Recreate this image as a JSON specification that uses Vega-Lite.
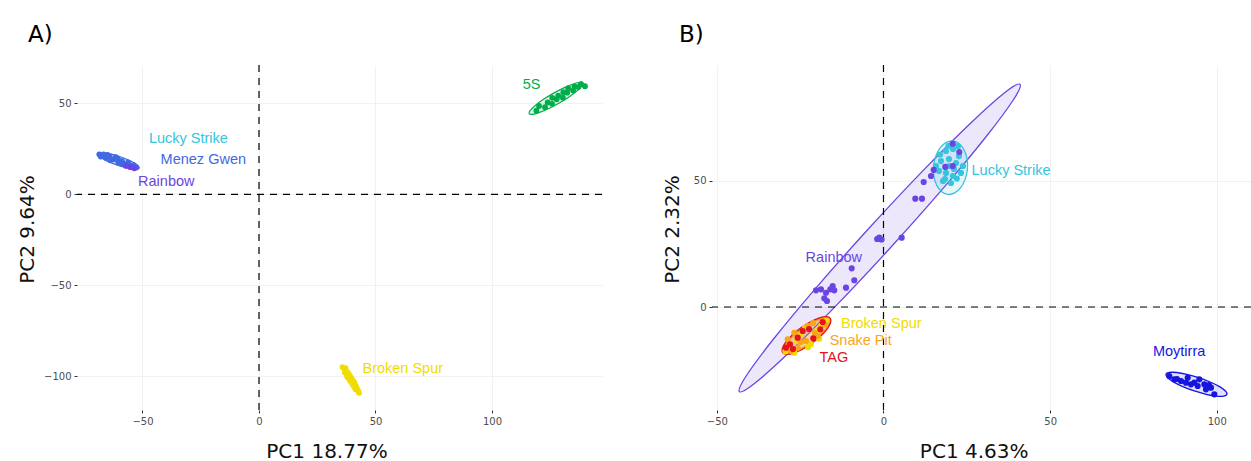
{
  "$schema": "https://vega.github.io/schema/vega-lite/v6.json",
  "padding": {"left": 17, "top": 24, "right": 0, "bottom": 0},
  "background": "white",
  "spacing": 59,
  "config": {
    "view": {"stroke": null},
    "axis": {
      "domain": false, "grid": true, "gridColor": "#F1F1F1", "gridWidth": 1,
      "ticks": true, "tickColor": "#333333", "tickSize": 3, "tickWidth": 1,
      "labelFont": "DejaVu Sans", "labelFontSize": 10, "labelColor": "#4D4D4D", "labelPadding": 3,
      "titleFont": "DejaVu Sans", "titleFontSize": 20, "titleFontWeight": "normal", "titleColor": "#111111"
    }
  },
  "datasets": {
    "zero": [{"v": 0}],
    "a_pts": [
      {"site": "5S", "x": 119.05, "y": 45.84}, {"site": "5S", "x": 120.19, "y": 48.46}, {"site": "5S", "x": 122.76, "y": 47.83},
      {"site": "5S", "x": 123.9, "y": 50.44}, {"site": "5S", "x": 125.78, "y": 49.67}, {"site": "5S", "x": 125.86, "y": 52.94},
      {"site": "5S", "x": 127.74, "y": 52.16}, {"site": "5S", "x": 128.42, "y": 54.08}, {"site": "5S", "x": 130.42, "y": 53.03},
      {"site": "5S", "x": 130.62, "y": 56.04}, {"site": "5S", "x": 132.26, "y": 55.8}, {"site": "5S", "x": 132.7, "y": 58.26},
      {"site": "5S", "x": 134.81, "y": 56.94}, {"site": "5S", "x": 135.37, "y": 59.13}, {"site": "5S", "x": 137.01, "y": 58.9},
      {"site": "5S", "x": 138.16, "y": 60.45}, {"site": "5S", "x": 139.9, "y": 59.3},
      {"site": "Lucky Strike", "x": -62.0, "y": 19.5}, {"site": "Lucky Strike", "x": -59.5, "y": 18.8},
      {"site": "Menez Gwen", "x": -68.54, "y": 21.96}, {"site": "Menez Gwen", "x": -67.92, "y": 20.75}, {"site": "Menez Gwen", "x": -66.7, "y": 21.85},
      {"site": "Menez Gwen", "x": -65.78, "y": 20.04}, {"site": "Menez Gwen", "x": -64.14, "y": 20.96}, {"site": "Menez Gwen", "x": -63.8, "y": 18.7},
      {"site": "Menez Gwen", "x": -62.26, "y": 19.2}, {"site": "Menez Gwen", "x": -60.73, "y": 19.7}, {"site": "Menez Gwen", "x": -60.39, "y": 17.44},
      {"site": "Menez Gwen", "x": -58.8, "y": 18.15}, {"site": "Menez Gwen", "x": -57.83, "y": 16.55}, {"site": "Menez Gwen", "x": -56.18, "y": 17.46},
      {"site": "Menez Gwen", "x": -55.26, "y": 15.65}, {"site": "Menez Gwen", "x": -53.78, "y": 15.94}, {"site": "Menez Gwen", "x": -52.7, "y": 14.76},
      {"site": "Menez Gwen", "x": -65.0, "y": 21.6}, {"site": "Menez Gwen", "x": -61.5, "y": 20.4}, {"site": "Menez Gwen", "x": -59.2, "y": 16.9},
      {"site": "Rainbow", "x": -55.2, "y": 14.9}, {"site": "Rainbow", "x": -53.5, "y": 14.3}, {"site": "Rainbow", "x": -57.0, "y": 15.6},
      {"site": "Broken Spur", "x": 35.82, "y": -94.82}, {"site": "Broken Spur", "x": 37.14, "y": -95.38}, {"site": "Broken Spur", "x": 36.86, "y": -97.74},
      {"site": "Broken Spur", "x": 38.31, "y": -98.2}, {"site": "Broken Spur", "x": 37.85, "y": -100.17}, {"site": "Broken Spur", "x": 39.3, "y": -100.63},
      {"site": "Broken Spur", "x": 39.22, "y": -102.3}, {"site": "Broken Spur", "x": 40.67, "y": -102.77}, {"site": "Broken Spur", "x": 40.45, "y": -104.53},
      {"site": "Broken Spur", "x": 41.53, "y": -105.3}, {"site": "Broken Spur", "x": 41.45, "y": -106.96}, {"site": "Broken Spur", "x": 42.51, "y": -107.73},
      {"site": "Broken Spur", "x": 42.94, "y": -108.99}
    ],
    "a_ell": [
      {"site": "5S", "i": 0, "x": 139.09, "y": 61.12}, {"site": "5S", "i": 1, "x": 138.67, "y": 59.45}, {"site": "5S", "i": 2, "x": 136.54, "y": 56.75},
      {"site": "5S", "i": 3, "x": 133.05, "y": 53.43}, {"site": "5S", "i": 4, "x": 128.7, "y": 50.01}, {"site": "5S", "i": 5, "x": 124.17, "y": 46.99},
      {"site": "5S", "i": 6, "x": 120.16, "y": 44.85}, {"site": "5S", "i": 7, "x": 117.25, "y": 43.89}, {"site": "5S", "i": 8, "x": 115.91, "y": 44.28},
      {"site": "5S", "i": 9, "x": 116.33, "y": 45.95}, {"site": "5S", "i": 10, "x": 118.46, "y": 48.65}, {"site": "5S", "i": 11, "x": 121.95, "y": 51.97},
      {"site": "5S", "i": 12, "x": 126.3, "y": 55.39}, {"site": "5S", "i": 13, "x": 130.83, "y": 58.41}, {"site": "5S", "i": 14, "x": 134.84, "y": 60.55},
      {"site": "5S", "i": 15, "x": 137.75, "y": 61.51},
      {"site": "Menez Gwen", "i": 0, "x": -51.37, "y": 14.38}, {"site": "Menez Gwen", "i": 1, "x": -52.27, "y": 13.8}, {"site": "Menez Gwen", "i": 2, "x": -54.37, "y": 13.89},
      {"site": "Menez Gwen", "i": 3, "x": -57.35, "y": 14.66}, {"site": "Menez Gwen", "i": 4, "x": -60.77, "y": 15.98}, {"site": "Menez Gwen", "i": 5, "x": -64.09, "y": 17.64},
      {"site": "Menez Gwen", "i": 6, "x": -66.81, "y": 19.41}, {"site": "Menez Gwen", "i": 7, "x": -68.53, "y": 21.0}, {"site": "Menez Gwen", "i": 8, "x": -68.97, "y": 22.18},
      {"site": "Menez Gwen", "i": 9, "x": -68.07, "y": 22.76}, {"site": "Menez Gwen", "i": 10, "x": -65.97, "y": 22.67}, {"site": "Menez Gwen", "i": 11, "x": -62.99, "y": 21.9},
      {"site": "Menez Gwen", "i": 12, "x": -59.57, "y": 20.58}, {"site": "Menez Gwen", "i": 13, "x": -56.25, "y": 18.92}, {"site": "Menez Gwen", "i": 14, "x": -53.53, "y": 17.15},
      {"site": "Menez Gwen", "i": 15, "x": -51.81, "y": 15.56},
      {"site": "Broken Spur", "i": 0, "x": 43.31, "y": -109.77}, {"site": "Broken Spur", "i": 1, "x": 42.54, "y": -109.56}, {"site": "Broken Spur", "i": 2, "x": 41.32, "y": -108.2},
      {"site": "Broken Spur", "i": 3, "x": 39.84, "y": -105.9}, {"site": "Broken Spur", "i": 4, "x": 38.32, "y": -103.0}, {"site": "Broken Spur", "i": 5, "x": 37.0, "y": -99.94},
      {"site": "Broken Spur", "i": 6, "x": 36.08, "y": -97.22}, {"site": "Broken Spur", "i": 7, "x": 35.68, "y": -95.2}, {"site": "Broken Spur", "i": 8, "x": 35.89, "y": -94.23},
      {"site": "Broken Spur", "i": 9, "x": 36.66, "y": -94.44}, {"site": "Broken Spur", "i": 10, "x": 37.88, "y": -95.8}, {"site": "Broken Spur", "i": 11, "x": 39.36, "y": -98.1},
      {"site": "Broken Spur", "i": 12, "x": 40.88, "y": -101.0}, {"site": "Broken Spur", "i": 13, "x": 42.2, "y": -104.06}, {"site": "Broken Spur", "i": 14, "x": 43.12, "y": -106.78},
      {"site": "Broken Spur", "i": 15, "x": 43.52, "y": -108.8}
    ],
    "a_lab": [
      {"site": "Lucky Strike", "label": "Lucky Strike", "x": -30.3, "y": 30.5},
      {"site": "Menez Gwen", "label": "Menez Gwen", "x": -23.9, "y": 19.0},
      {"site": "Rainbow", "label": "Rainbow", "x": -39.8, "y": 6.75},
      {"site": "5S", "label": "5S", "x": 117.0, "y": 59.9},
      {"site": "Broken Spur", "label": "Broken Spur", "x": 61.7, "y": -95.9}
    ],
    "b_pts": [
      {"site": "Lucky Strike", "x": 18.75, "y": 61.9}, {"site": "Lucky Strike", "x": 20.85, "y": 62.7}, {"site": "Lucky Strike", "x": 22.65, "y": 59.9},
      {"site": "Lucky Strike", "x": 17.25, "y": 57.9}, {"site": "Lucky Strike", "x": 19.65, "y": 58.7}, {"site": "Lucky Strike", "x": 21.75, "y": 57.1},
      {"site": "Lucky Strike", "x": 23.85, "y": 55.95}, {"site": "Lucky Strike", "x": 16.65, "y": 54.0}, {"site": "Lucky Strike", "x": 18.75, "y": 53.2},
      {"site": "Lucky Strike", "x": 20.85, "y": 52.0}, {"site": "Lucky Strike", "x": 23.25, "y": 53.2}, {"site": "Lucky Strike", "x": 17.85, "y": 50.0},
      {"site": "Lucky Strike", "x": 20.25, "y": 49.2}, {"site": "Lucky Strike", "x": 15.75, "y": 55.95}, {"site": "Lucky Strike", "x": 22.35, "y": 63.9},
      {"site": "Lucky Strike", "x": 19.65, "y": 55.95}, {"site": "Lucky Strike", "x": 21.15, "y": 54.8}, {"site": "Lucky Strike", "x": 18.45, "y": 50.8},
      {"site": "Lucky Strike", "x": 17.0, "y": 60.5}, {"site": "Lucky Strike", "x": 19.5, "y": 64.0}, {"site": "Lucky Strike", "x": 22.0, "y": 51.0},
      {"site": "Rainbow", "x": 20.76, "y": 64.8}, {"site": "Rainbow", "x": 22.74, "y": 61.5}, {"site": "Rainbow", "x": 18.54, "y": 55.6},
      {"site": "Rainbow", "x": 20.76, "y": 55.95}, {"site": "Rainbow", "x": 15.06, "y": 54.4}, {"site": "Rainbow", "x": 14.25, "y": 52.0},
      {"site": "Rainbow", "x": 12.06, "y": 49.6}, {"site": "Rainbow", "x": 9.54, "y": 43.0}, {"site": "Rainbow", "x": 11.55, "y": 43.0},
      {"site": "Rainbow", "x": -1.26, "y": 27.5}, {"site": "Rainbow", "x": -1.9, "y": 27.0}, {"site": "Rainbow", "x": -0.6, "y": 26.8},
      {"site": "Rainbow", "x": 5.46, "y": 27.5}, {"site": "Rainbow", "x": -9.54, "y": 15.36}, {"site": "Rainbow", "x": -8.76, "y": 10.6},
      {"site": "Rainbow", "x": -11.25, "y": 7.66}, {"site": "Rainbow", "x": -15.24, "y": 8.33}, {"site": "Rainbow", "x": -15.96, "y": 7.02},
      {"site": "Rainbow", "x": -17.25, "y": 5.67}, {"site": "Rainbow", "x": -17.76, "y": 3.45}, {"site": "Rainbow", "x": -16.95, "y": 2.38},
      {"site": "Rainbow", "x": -18.75, "y": 7.02}, {"site": "Rainbow", "x": -20.25, "y": 6.63}, {"site": "Rainbow", "x": -14.76, "y": 6.63},
      {"site": "Broken Spur", "x": -17.25, "y": -5.56}, {"site": "Broken Spur", "x": -26.76, "y": -18.13}, {"site": "Broken Spur", "x": -20.25, "y": -9.52},
      {"site": "Broken Spur", "x": -24.75, "y": -10.7}, {"site": "Broken Spur", "x": -28.35, "y": -15.5}, {"site": "Broken Spur", "x": -21.75, "y": -14.7},
      {"site": "Broken Spur", "x": -18.75, "y": -7.54}, {"site": "Broken Spur", "x": -23.5, "y": -8.2}, {"site": "Broken Spur", "x": -26.0, "y": -13.4},
      {"site": "Broken Spur", "x": -19.3, "y": -12.6}, {"site": "Broken Spur", "x": -29.4, "y": -17.6}, {"site": "Broken Spur", "x": -22.6, "y": -15.9},
      {"site": "Snake Pit", "x": -22.74, "y": -7.54}, {"site": "Snake Pit", "x": -26.76, "y": -10.2}, {"site": "Snake Pit", "x": -19.74, "y": -11.5},
      {"site": "Snake Pit", "x": -28.74, "y": -12.8}, {"site": "Snake Pit", "x": -23.25, "y": -13.5}, {"site": "Snake Pit", "x": -25.74, "y": -16.15},
      {"site": "Snake Pit", "x": -21.15, "y": -6.35}, {"site": "Snake Pit", "x": -24.75, "y": -13.9}, {"site": "Snake Pit", "x": -17.6, "y": -7.0},
      {"site": "Snake Pit", "x": -27.8, "y": -17.4}, {"site": "Snake Pit", "x": -20.6, "y": -10.3},
      {"site": "TAG", "x": -24.24, "y": -9.52}, {"site": "TAG", "x": -18.96, "y": -8.85}, {"site": "TAG", "x": -21.06, "y": -12.42},
      {"site": "TAG", "x": -28.05, "y": -14.8}, {"site": "TAG", "x": -25.74, "y": -12.18}, {"site": "TAG", "x": -18.24, "y": -5.95},
      {"site": "TAG", "x": -29.25, "y": -16.15}, {"site": "TAG", "x": -22.35, "y": -8.73}, {"site": "TAG", "x": -27.15, "y": -16.67},
      {"site": "Moytirra", "x": 85.75, "y": -27.38}, {"site": "Moytirra", "x": 87.25, "y": -28.69}, {"site": "Moytirra", "x": 89.26, "y": -29.37},
      {"site": "Moytirra", "x": 91.27, "y": -28.06}, {"site": "Moytirra", "x": 93.25, "y": -30.04}, {"site": "Moytirra", "x": 94.75, "y": -28.69},
      {"site": "Moytirra", "x": 96.25, "y": -30.67}, {"site": "Moytirra", "x": 94.27, "y": -31.35}, {"site": "Moytirra", "x": 98.25, "y": -32.02},
      {"site": "Moytirra", "x": 99.25, "y": -34.64}, {"site": "Moytirra", "x": 96.75, "y": -32.66}, {"site": "Moytirra", "x": 92.25, "y": -30.67},
      {"site": "Moytirra", "x": 90.75, "y": -30.04}, {"site": "Moytirra", "x": 88.05, "y": -28.57}, {"site": "Moytirra", "x": 97.65, "y": -30.95}
    ],
    "b_ell": [
      {"site": "Rainbow", "i": 0, "x": 40.95, "y": 88.37}, {"site": "Rainbow", "i": 1, "x": 38.98, "y": 82.24}, {"site": "Rainbow", "i": 2, "x": 30.89, "y": 67.76},
      {"site": "Rainbow", "i": 3, "x": 17.95, "y": 47.15}, {"site": "Rainbow", "i": 4, "x": 2.07, "y": 23.5}, {"site": "Rainbow", "i": 5, "x": -14.29, "y": 0.43},
      {"site": "Rainbow", "i": 6, "x": -28.63, "y": -18.48}, {"site": "Rainbow", "i": 7, "x": -38.8, "y": -30.46}, {"site": "Rainbow", "i": 8, "x": -43.23, "y": -33.61},
      {"site": "Rainbow", "i": 9, "x": -41.26, "y": -27.48}, {"site": "Rainbow", "i": 10, "x": -33.17, "y": -13.0}, {"site": "Rainbow", "i": 11, "x": -20.23, "y": 7.61},
      {"site": "Rainbow", "i": 12, "x": -4.35, "y": 31.26}, {"site": "Rainbow", "i": 13, "x": 12.01, "y": 54.33}, {"site": "Rainbow", "i": 14, "x": 26.35, "y": 73.24},
      {"site": "Rainbow", "i": 15, "x": 36.52, "y": 85.22},
      {"site": "Lucky Strike", "i": 0, "x": 20.85, "y": 65.86}, {"site": "Lucky Strike", "i": 1, "x": 22.73, "y": 64.82}, {"site": "Lucky Strike", "i": 2, "x": 24.21, "y": 62.31},
      {"site": "Lucky Strike", "i": 3, "x": 25.07, "y": 58.75}, {"site": "Lucky Strike", "i": 4, "x": 25.17, "y": 54.65}, {"site": "Lucky Strike", "i": 5, "x": 24.49, "y": 50.65},
      {"site": "Lucky Strike", "i": 6, "x": 23.15, "y": 47.35}, {"site": "Lucky Strike", "i": 7, "x": 21.35, "y": 45.26}, {"site": "Lucky Strike", "i": 8, "x": 19.35, "y": 44.7},
      {"site": "Lucky Strike", "i": 9, "x": 17.47, "y": 45.74}, {"site": "Lucky Strike", "i": 10, "x": 15.99, "y": 48.25}, {"site": "Lucky Strike", "i": 11, "x": 15.13, "y": 51.81},
      {"site": "Lucky Strike", "i": 12, "x": 15.03, "y": 55.91}, {"site": "Lucky Strike", "i": 13, "x": 15.71, "y": 59.91}, {"site": "Lucky Strike", "i": 14, "x": 17.05, "y": 63.21},
      {"site": "Lucky Strike", "i": 15, "x": 18.85, "y": 65.3},
      {"site": "Broken Spur", "i": 0, "x": -16.2, "y": -4.6}, {"site": "Broken Spur", "i": 1, "x": -16.16, "y": -6.09}, {"site": "Broken Spur", "i": 2, "x": -17.14, "y": -8.32},
      {"site": "Broken Spur", "i": 3, "x": -18.98, "y": -10.95}, {"site": "Broken Spur", "i": 4, "x": -21.4, "y": -13.6}, {"site": "Broken Spur", "i": 5, "x": -24.04, "y": -15.85},
      {"site": "Broken Spur", "i": 6, "x": -26.48, "y": -17.36}, {"site": "Broken Spur", "i": 7, "x": -28.36, "y": -17.91}, {"site": "Broken Spur", "i": 8, "x": -29.4, "y": -17.4},
      {"site": "Broken Spur", "i": 9, "x": -29.44, "y": -15.91}, {"site": "Broken Spur", "i": 10, "x": -28.46, "y": -13.68}, {"site": "Broken Spur", "i": 11, "x": -26.62, "y": -11.05},
      {"site": "Broken Spur", "i": 12, "x": -24.2, "y": -8.4}, {"site": "Broken Spur", "i": 13, "x": -21.56, "y": -6.15}, {"site": "Broken Spur", "i": 14, "x": -19.12, "y": -4.64},
      {"site": "Broken Spur", "i": 15, "x": -17.24, "y": -4.09},
      {"site": "Snake Pit", "i": 0, "x": -16.5, "y": -5.1}, {"site": "Snake Pit", "i": 1, "x": -16.45, "y": -6.66}, {"site": "Snake Pit", "i": 2, "x": -17.43, "y": -8.98},
      {"site": "Snake Pit", "i": 3, "x": -19.31, "y": -11.7}, {"site": "Snake Pit", "i": 4, "x": -21.8, "y": -14.4}, {"site": "Snake Pit", "i": 5, "x": -24.51, "y": -16.68},
      {"site": "Snake Pit", "i": 6, "x": -27.05, "y": -18.18}, {"site": "Snake Pit", "i": 7, "x": -29.01, "y": -18.68}, {"site": "Snake Pit", "i": 8, "x": -30.1, "y": -18.1},
      {"site": "Snake Pit", "i": 9, "x": -30.15, "y": -16.54}, {"site": "Snake Pit", "i": 10, "x": -29.17, "y": -14.22}, {"site": "Snake Pit", "i": 11, "x": -27.29, "y": -11.5},
      {"site": "Snake Pit", "i": 12, "x": -24.8, "y": -8.8}, {"site": "Snake Pit", "i": 13, "x": -22.09, "y": -6.52}, {"site": "Snake Pit", "i": 14, "x": -19.55, "y": -5.02},
      {"site": "Snake Pit", "i": 15, "x": -17.59, "y": -4.52},
      {"site": "TAG", "i": 0, "x": -15.96, "y": -4.48}, {"site": "TAG", "i": 1, "x": -15.86, "y": -6.17}, {"site": "TAG", "i": 2, "x": -16.87, "y": -8.64},
      {"site": "TAG", "i": 3, "x": -18.83, "y": -11.52}, {"site": "TAG", "i": 4, "x": -21.43, "y": -14.37}, {"site": "TAG", "i": 5, "x": -24.29, "y": -16.76},
      {"site": "TAG", "i": 6, "x": -26.97, "y": -18.3}, {"site": "TAG", "i": 7, "x": -29.06, "y": -18.79}, {"site": "TAG", "i": 8, "x": -30.24, "y": -18.14},
      {"site": "TAG", "i": 9, "x": -30.34, "y": -16.45}, {"site": "TAG", "i": 10, "x": -29.33, "y": -13.98}, {"site": "TAG", "i": 11, "x": -27.37, "y": -11.1},
      {"site": "TAG", "i": 12, "x": -24.77, "y": -8.25}, {"site": "TAG", "i": 13, "x": -21.91, "y": -5.86}, {"site": "TAG", "i": 14, "x": -19.23, "y": -4.32},
      {"site": "TAG", "i": 15, "x": -17.14, "y": -3.83},
      {"site": "Moytirra", "i": 0, "x": 103.05, "y": -34.64}, {"site": "Moytirra", "i": 1, "x": 102.1, "y": -35.35}, {"site": "Moytirra", "i": 2, "x": 99.91, "y": -35.35},
      {"site": "Moytirra", "i": 3, "x": 96.8, "y": -34.63}, {"site": "Moytirra", "i": 4, "x": 93.25, "y": -33.31}, {"site": "Moytirra", "i": 5, "x": 89.8, "y": -31.59},
      {"site": "Moytirra", "i": 6, "x": 86.97, "y": -29.73}, {"site": "Moytirra", "i": 7, "x": 85.2, "y": -28.01}, {"site": "Moytirra", "i": 8, "x": 84.75, "y": -26.7},
      {"site": "Moytirra", "i": 9, "x": 85.7, "y": -25.99}, {"site": "Moytirra", "i": 10, "x": 87.89, "y": -25.99}, {"site": "Moytirra", "i": 11, "x": 91.0, "y": -26.71},
      {"site": "Moytirra", "i": 12, "x": 94.55, "y": -28.03}, {"site": "Moytirra", "i": 13, "x": 98.0, "y": -29.75}, {"site": "Moytirra", "i": 14, "x": 100.83, "y": -31.61},
      {"site": "Moytirra", "i": 15, "x": 102.6, "y": -33.33}
    ],
    "b_lab": [
      {"site": "Lucky Strike", "label": "Lucky Strike", "x": 38.25, "y": 54.1},
      {"site": "Rainbow", "label": "Rainbow", "x": -14.9, "y": 19.4},
      {"site": "Broken Spur", "label": "Broken Spur", "x": -0.66, "y": -6.7},
      {"site": "Snake Pit", "label": "Snake Pit", "x": -6.84, "y": -13.65},
      {"site": "TAG", "label": "TAG", "x": -14.9, "y": -20.2},
      {"site": "Moytirra", "label": "Moytirra", "x": 88.7, "y": -18.0}
    ]
  },
  "hconcat": [
    {
      "width": 525,
      "height": 345,
      "title": {"text": "A)", "anchor": "start", "frame": "group", "dx": -49, "offset": 17, "fontSize": 23, "font": "DejaVu Sans", "fontWeight": "normal", "color": "#000000"},
      "layer": [
        {
          "data": {"name": "a_ell"},
          "mark": {"type": "line", "interpolate": "cardinal-closed", "strokeWidth": 1.2, "fillOpacity": 0.12},
          "encoding": {
            "x": {"field": "x", "type": "quantitative", "scale": {"domain": [-78.11, 147.21], "nice": false, "zero": false},
                  "axis": {"values": [-50, 0, 50, 100], "title": "PC1 18.77%", "titleX": 249.5, "titleY": 31}},
            "y": {"field": "y", "type": "quantitative", "scale": {"domain": [-118.39, 70.97], "nice": false, "zero": false},
                  "axis": {"values": [-100, -50, 0, 50], "title": "PC2 9.64%", "titleX": -40, "titleY": 164}},
            "color": {"field": "site", "type": "nominal", "legend": null,
                      "scale": {"domain": ["5S", "Broken Spur", "Lucky Strike", "Menez Gwen", "Moytirra", "Rainbow", "Snake Pit", "TAG"],
                                "range": ["#00AD4A", "#F0DC00", "#35C5DD", "#4169E1", "#1515E0", "#6B45E3", "#F9A51A", "#E3121B"]}},
            "fill": {"field": "site", "type": "nominal", "legend": null,
                     "scale": {"domain": ["5S", "Broken Spur", "Lucky Strike", "Menez Gwen", "Moytirra", "Rainbow", "Snake Pit", "TAG"],
                               "range": ["#00AD4A", "#F0DC00", "#35C5DD", "#4169E1", "#1515E0", "#6B45E3", "#F9A51A", "#E3121B"]}},
            "order": {"field": "i", "type": "quantitative"}
          }
        },
        {"data": {"name": "zero"}, "mark": {"type": "rule", "strokeDash": [7, 6], "color": "#000000", "strokeWidth": 1.2}, "encoding": {"x": {"field": "v", "type": "quantitative"}}},
        {"data": {"name": "zero"}, "mark": {"type": "rule", "strokeDash": [7, 6], "color": "#000000", "strokeWidth": 1.2}, "encoding": {"y": {"field": "v", "type": "quantitative"}}},
        {
          "data": {"name": "a_pts"},
          "mark": {"type": "circle", "size": 34, "opacity": 1},
          "encoding": {
            "x": {"field": "x", "type": "quantitative"},
            "y": {"field": "y", "type": "quantitative"},
            "color": {"field": "site", "type": "nominal", "legend": null}
          }
        },
        {
          "data": {"name": "a_lab"},
          "mark": {"type": "text", "font": "Liberation Sans", "fontSize": 14.5, "align": "center", "baseline": "middle"},
          "encoding": {
            "x": {"field": "x", "type": "quantitative"},
            "y": {"field": "y", "type": "quantitative"},
            "text": {"field": "label"},
            "color": {"field": "site", "type": "nominal", "legend": null}
          }
        }
      ]
    },
    {
      "width": 539,
      "height": 345,
      "title": {"text": "B)", "anchor": "start", "frame": "group", "dx": -33, "offset": 17, "fontSize": 23, "font": "DejaVu Sans", "fontWeight": "normal", "color": "#000000"},
      "layer": [
        {
          "data": {"name": "b_ell"},
          "mark": {"type": "line", "interpolate": "cardinal-closed", "strokeWidth": 1.3, "fillOpacity": 0.13},
          "encoding": {
            "x": {"field": "x", "type": "quantitative", "scale": {"domain": [-51.45, 110.26], "nice": false, "zero": false},
                  "axis": {"values": [-50, 0, 50, 100], "title": "PC1 4.63%", "titleX": 261.7, "titleY": 31}},
            "y": {"field": "y", "type": "quantitative", "scale": {"domain": [-40.87, 96.03], "nice": false, "zero": false},
                  "axis": {"values": [0, 50], "title": "PC2 2.32%", "titleX": -30, "titleY": 164}},
            "color": {"field": "site", "type": "nominal", "legend": null,
                      "scale": {"domain": ["5S", "Broken Spur", "Lucky Strike", "Menez Gwen", "Moytirra", "Rainbow", "Snake Pit", "TAG"],
                                "range": ["#00AD4A", "#F0DC00", "#35C5DD", "#4169E1", "#1515E0", "#6B45E3", "#F9A51A", "#E3121B"]}},
            "fill": {"field": "site", "type": "nominal", "legend": null,
                     "scale": {"domain": ["5S", "Broken Spur", "Lucky Strike", "Menez Gwen", "Moytirra", "Rainbow", "Snake Pit", "TAG"],
                               "range": ["#00AD4A", "#F0DC00", "#35C5DD", "#4169E1", "#1515E0", "#6B45E3", "#F9A51A", "#E3121B"]}},
            "order": {"field": "i", "type": "quantitative"}
          }
        },
        {"data": {"name": "zero"}, "mark": {"type": "rule", "strokeDash": [7, 6], "color": "#000000", "strokeWidth": 1.2}, "encoding": {"x": {"field": "v", "type": "quantitative"}}},
        {"data": {"name": "zero"}, "mark": {"type": "rule", "strokeDash": [7, 6], "color": "#000000", "strokeWidth": 1.2}, "encoding": {"y": {"field": "v", "type": "quantitative"}}},
        {
          "data": {"name": "b_pts"},
          "mark": {"type": "circle", "size": 38, "opacity": 1},
          "encoding": {
            "x": {"field": "x", "type": "quantitative"},
            "y": {"field": "y", "type": "quantitative"},
            "color": {"field": "site", "type": "nominal", "legend": null}
          }
        },
        {
          "data": {"name": "b_lab"},
          "mark": {"type": "text", "font": "Liberation Sans", "fontSize": 14.5, "align": "center", "baseline": "middle"},
          "encoding": {
            "x": {"field": "x", "type": "quantitative"},
            "y": {"field": "y", "type": "quantitative"},
            "text": {"field": "label"},
            "color": {"field": "site", "type": "nominal", "legend": null}
          }
        }
      ]
    }
  ]
}
